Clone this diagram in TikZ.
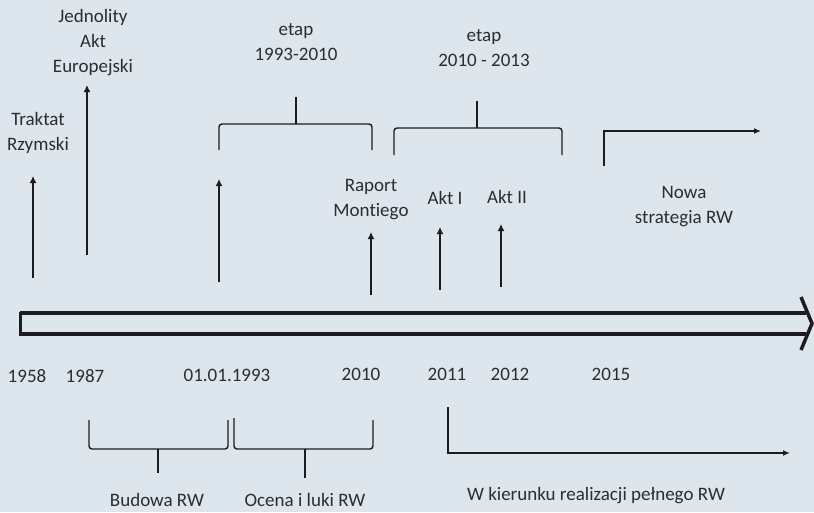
\documentclass[tikz,border=0pt]{standalone}
\usepackage{fontspec}
\setmainfont{Carlito}[Ligatures=NoCommon]
\usetikzlibrary{arrows.meta}
\definecolor{bg}{RGB}{221,229,237}
\definecolor{ink}{RGB}{30,28,32}
\definecolor{txt}{RGB}{45,45,48}
\tikzset{
  lbl/.style={text=txt, align=center, inner sep=0pt, font=\fontsize{19}{25}\selectfont},
  event/.style={ink, line width=2.4pt, -{Latex[length=7pt,width=7pt]}},
  brace/.style={ink, line width=1.4pt, rounded corners=3pt},
  lead/.style={ink, line width=2pt, -{Latex[length=7pt,width=6pt]}},
  axis/.style={ink, line width=3.5pt}
}
\begin{document}
\begin{tikzpicture}[x=1pt,y=-1pt]
	\fill[bg] (0,0) rectangle (814,512);
	\useasboundingbox (0,0) rectangle (814,512);
	% time axis
	\draw[axis] (20,313) -- (806,313);
	\draw[axis] (20,334) -- (806,334);
	\draw[axis, line width=3pt] (20,311.5) -- (20,335.5);
	\draw[axis, line width=3.5pt, line join=miter] (801,297) -- (812,323.5) -- (801,350);
	% years
	\node[lbl] (y58) at (27,376) {1958};
	\node[lbl] (y87) at (85,376) {1987};
	\node[lbl] (y93) at (227,375) {01.01.1993};
	\node[lbl] (y10) at (361,374) {2010};
	\node[lbl] (y11) at (447,374) {2011};
	\node[lbl] (y12) at (510,374) {2012};
	\node[lbl] (y15) at (611,374) {2015};
	% events
	\node[lbl] (rzym) at (38,133) {Traktat\\Rzymski};
	\node[lbl] (jae) at (93,43) {Jednolity\\Akt\\Europejski};
	\node[lbl] (mont) at (371,200) {Raport\\Montiego};
	\node[lbl] (akt1) at (445,198) {Akt I};
	\node[lbl] (akt2) at (507,197) {Akt II};
	\coordinate (e58) at (33,278); \coordinate (h58) at (33,176);
	\coordinate (e87) at (87,255); \coordinate (h87) at (87,85);
	\coordinate (e93) at (219,282); \coordinate (h93) at (219,179);
	\coordinate (e10) at (371,295); \coordinate (h10) at (371,232);
	\coordinate (e11) at (440,290); \coordinate (h11) at (440,227);
	\coordinate (e12) at (501,287); \coordinate (h12) at (501,224);
	\draw[event] (e58) -- (h58);
	\draw[event] (e87) -- (h87);
	\draw[event] (e93) -- (h93);
	\draw[event] (e10) -- (h10);
	\draw[event] (e11) -- (h11);
	\draw[event] (e12) -- (h12);
	% upper stages
	\node[lbl] (etap1) at (296,42) {etap\\1993-2010};
	\node[lbl] (etap2) at (484,48) {etap\\2010 - 2013};
	\draw[brace] (219,150) -- (219,124) -- (372,124) -- (372,150);
	\draw[brace] (296,124) -- (296,97);
	\draw[brace] (394,155) -- (394,128) -- (562,128) -- (562,155);
	\draw[brace] (477,128) -- (477,101);
	\node[lbl] (nowa) at (684,207) {Nowa\\strategia RW};
	\coordinate (n0) at (604,166); \coordinate (n1) at (761,131);
	\draw[lead] (n0) |- (n1);
	% lower stages
	\draw[brace] (89,420) -- (89,449) -- (228,449) -- (228,420);
	\draw[brace] (158,449) -- (158,473);
	\draw[brace] (234,418) -- (234,449) -- (373,449) -- (373,420);
	\draw[brace] (305,449) -- (305,478);
	\node[lbl] (bud) at (157,500) {Budowa RW};
	\node[lbl] (ocena) at (305,500) {Ocena i luki RW};
	\node[lbl] (pelne) at (596,496) {W kierunku realizacji pełnego RW};
	\coordinate (w0) at (448,407); \coordinate (w1) at (790,453);
	\draw[lead] (w0) |- (w1);
\end{tikzpicture}
\end{document}
